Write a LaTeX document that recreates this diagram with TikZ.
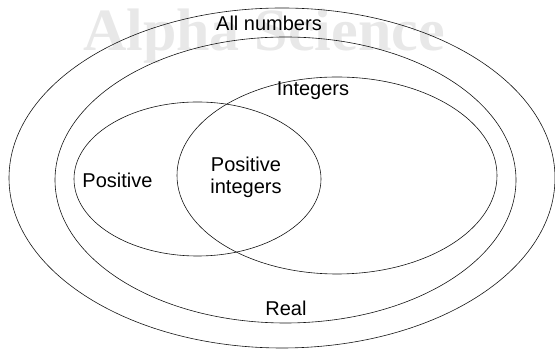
\documentclass[tikz,border=0pt]{standalone}
\usepackage{fontspec}
\setmainfont{Liberation Sans}
\newfontfamily\markfont{Liberation Serif}
\usetikzlibrary{shapes.geometric}
\definecolor{setline}{RGB}{20,20,20}
\definecolor{markgray}{RGB}{232,232,232}
\tikzset{
  setring/.style={ellipse,draw=setline,line width=0.6pt,inner sep=0pt,outer sep=0pt},
  setlabel/.style={font=\fontsize{20}{22}\selectfont,align=center,inner sep=1pt},
  wmark/.style={font=\markfont\bfseries\fontsize{60}{64}\selectfont,text=markgray},
}
\newcommand{\setellipse}[5]{%
  \node[setring,minimum width=#4pt,minimum height=#5pt] (#1) at (#2,#3) {};}

\begin{document}
\begin{tikzpicture}[x=1pt,y=1pt]
        \useasboundingbox (0,0) rectangle (555,350);
        \node[wmark] (mark) at (264,314) {Alpha Science};
        \setellipse{allnum}{282}{172}{546}{340}
        \setellipse{real}{285.5}{170}{461}{286}
        \setellipse{integ}{337}{174.5}{320}{197}
        \setellipse{posit}{197.5}{171}{247}{154}
        \node[setlabel] (allnumlbl) at (269,327) {All numbers};
        \node[setlabel] (integlbl) at (313,259) {Integers};
        \node[setlabel] (positlbl) at (117.5,170) {Positive};
        \node[setlabel] (bothlbl) at (246,172.5) {Positive\\integers};
        \node[setlabel] (reallbl) at (286,42) {Real};
      \end{tikzpicture}
\end{document}
